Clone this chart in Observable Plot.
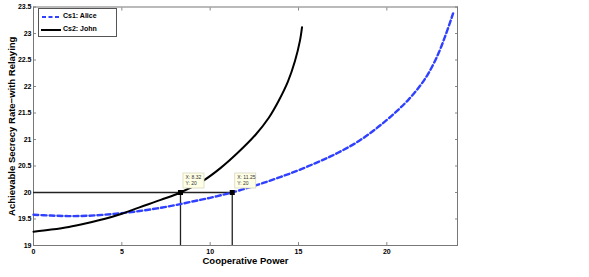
<!DOCTYPE html>
<html><head><meta charset="utf-8">
<script src="https://cdn.jsdelivr.net/npm/d3@7"></script>
<script src="https://cdn.jsdelivr.net/npm/@observablehq/plot@0.6"></script>
<style>
body{margin:0;background:#fff;font-family:"Liberation Sans",Arial,sans-serif;}
#wrap{position:relative;width:589px;height:277px;}
#legend{position:absolute;left:38px;top:8px;width:77px;height:27px;border:1px solid #555;background:#fff;font:bold 7px "Liberation Sans",Arial,sans-serif;}
#legend div{position:absolute;left:24px;}
#legend svg{position:absolute;left:0;top:0;}
</style></head>
<body><div id="wrap"></div>
<script>
const aliceX = [0,1,2,3,4,5,6,7,8,9,10,11,11.25,12,13,14,15,16,16.81,17.56,18.32,19.07,19.82,20.58,21.24,21.9,22.37,22.9,23.3,23.66,23.75];
const aliceY = [19.58,19.565,19.555,19.56,19.58,19.61,19.65,19.7,19.76,19.83,19.9,19.98,20.0,20.075,20.18,20.295,20.42,20.56,20.68,20.807,20.951,21.124,21.319,21.54,21.758,22.022,22.257,22.607,22.947,23.29,23.38];
const johnX = [0,1,2,3,4,5,6,7.2,8.32,9.64,10.58,11.53,12.57,13.32,13.88,14.4,14.8,15.08,15.2];
const johnY = [19.26,19.3,19.35,19.42,19.5,19.6,19.72,19.86,20.0,20.23,20.46,20.74,21.09,21.41,21.73,22.09,22.48,22.86,23.12];
const tipX = [8.32, 11.25];
const tipY = [20, 20];
const xTicks = [0,5,10,15,20];
const yTicks = [19,19.5,20,20.5,21,21.5,22,22.5,23,23.5];
const seriesNames = ["Cs1: Alice","Cs2: John"];

const alice = aliceX.map((x,i)=>({x, y: aliceY[i]}));
const john = johnX.map((x,i)=>({x, y: johnY[i]}));
const tips = tipX.map((x,i)=>({x, y: tipY[i]}));

const tickFont = {fontSize: 7, fontWeight: "bold", fill: "#000"};
const chart = Plot.plot({
  width: 589, height: 277,
  marginLeft: 33, marginRight: 132, marginTop: 6.5, marginBottom: 32,
  style: {fontFamily: '"Liberation Sans", Arial, sans-serif', background: "#fff", overflow: "visible"},
  x: {domain: [0, 24]},
  y: {domain: [19, 23.5]},
  marks: [
    Plot.axisX(xTicks, {anchor: "bottom", tickSize: -3, stroke: "#888", tickPadding: 7, ...tickFont, label: null}),
    Plot.axisX(xTicks, {anchor: "top", tickSize: -3, stroke: "#888", text: null, label: null}),
    Plot.axisY(yTicks, {anchor: "left", tickSize: -3, stroke: "#888", tickPadding: 5, ...tickFont, label: null, tickFormat: d => String(d)}),
    Plot.axisY(yTicks, {anchor: "right", tickSize: -3, stroke: "#888", text: null, label: null}),
    Plot.frame({stroke: "#777", strokeWidth: 1}),
    Plot.ruleY(tips.slice(1), {x1: 0, x2: "x", y: "y", stroke: "#222", strokeWidth: 1.3}),
    Plot.ruleX(tips, {x: "x", y1: 19, y2: "y", stroke: "#222", strokeWidth: 1.3}),
    Plot.line(alice, {x: "x", y: "y", stroke: "#3040ff", strokeWidth: 2.4, strokeDasharray: "5,3", curve: "catmull-rom"}),
    Plot.line(john, {x: "x", y: "y", stroke: "#000", strokeWidth: 2, curve: "catmull-rom"}),
    Plot.rect(tips, {x1: "x", x2: "x", y1: "y", y2: "y", insetLeft: 3, insetRight: -24, insetTop: -19, insetBottom: 4, fill: "#ffffe6", stroke: "#d8d8c0", strokeWidth: 0.8}),
    Plot.text(tips, {x: "x", y: "y", text: d => `X: ${d.x}`, dx: 5, dy: -15, textAnchor: "start", fontSize: 5, fill: "#333"}),
    Plot.text(tips, {x: "x", y: "y", text: d => `Y: ${d.y}`, dx: 5, dy: -9, textAnchor: "start", fontSize: 5, fill: "#333"}),
    Plot.dot(tips, {x: "x", y: "y", symbol: "square", r: 2, fill: "#000", stroke: "#000"}),
    Plot.text(["Cooperative Power"], {frameAnchor: "bottom", dy: 18, fontSize: 9.5, fontWeight: "bold", fill: "#000"}),
    Plot.text(["Achievable Secrecy Rate\u2212with Relaying"], {frameAnchor: "left", textAnchor: "middle", dx: -22, rotate: -90, fontSize: 9.5, fontWeight: "bold", fill: "#000"})
  ]
});
const wrap = document.getElementById("wrap");
wrap.appendChild(chart);
const lg = document.createElement("div");
lg.id = "legend";
lg.innerHTML = `<svg width="77" height="27"><line x1="3" y1="8" x2="22" y2="8" stroke="#3040ff" stroke-width="2.2" stroke-dasharray="4,2.5"/><line x1="2" y1="21" x2="22" y2="21" stroke="#000" stroke-width="2"/></svg>
<div style="top:3px">${seriesNames[0]}</div><div style="top:16px">${seriesNames[1]}</div>`;
wrap.appendChild(lg);
</script></body></html>
